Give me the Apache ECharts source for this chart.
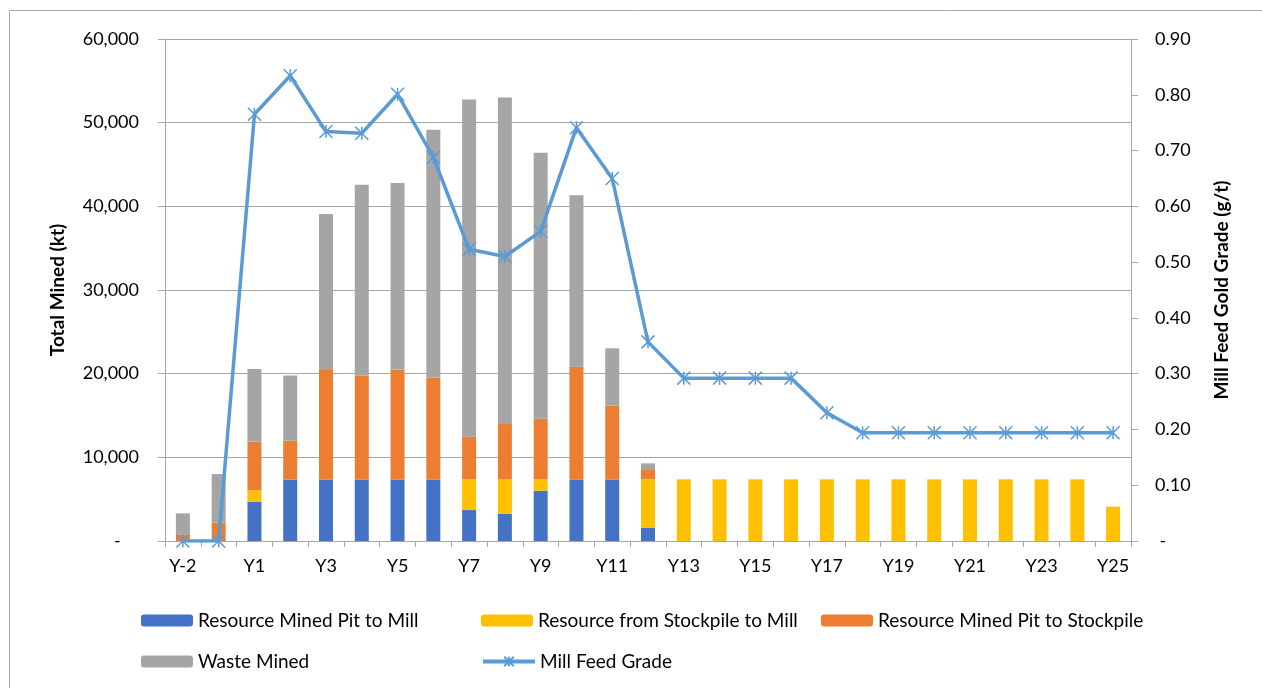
<!DOCTYPE html>
<html>
<head>
<meta charset="utf-8">
<script src="https://cdn.jsdelivr.net/npm/echarts@6/dist/echarts.min.js"></script>
<style>
html,body{margin:0;padding:0;background:#fff;}
#chart{width:1262px;height:688px;}
</style>
</head>
<body>
<div id="chart"></div>
<script>
const categories = ['Y-2','Y-1','Y1','Y2','Y3','Y4','Y5','Y6','Y7','Y8','Y9','Y10','Y11','Y12','Y13','Y14','Y15','Y16','Y17','Y18','Y19','Y20','Y21','Y22','Y23','Y24','Y25'];
const pitToMill   = [0,0,4700,7330,7330,7330,7330,7330,3700,3260,6000,7330,7330,1600,0,0,0,0,0,0,0,0,0,0,0,0,0];
const stockToMill = [0,0,1350,0,0,0,0,0,3670,4110,1370,0,0,5770,7370,7370,7370,7370,7370,7370,7370,7370,7370,7370,7370,7370,4100];
const pitToStock  = [800,2200,5800,4650,13100,12450,13180,12220,5100,6610,7250,13500,8840,1110,0,0,0,0,0,0,0,0,0,0,0,0,0];
const wasteMined  = [2500,5800,8700,7800,18650,22800,22270,29600,40300,39020,31780,20480,6860,800,0,0,0,0,0,0,0,0,0,0,0,0,0];
const millGrade   = [0,0,0.765,0.834,0.734,0.731,0.801,0.688,0.523,0.510,0.555,0.741,0.650,0.357,0.292,0.292,0.292,0.292,0.230,0.194,0.194,0.194,0.194,0.194,0.194,0.194,0.194];
const seriesNames = ['Resource Mined Pit to Mill','Resource from Stockpile to Mill','Resource Mined Pit to Stockpile','Waste Mined','Mill Feed Grade'];

const FONT = 'Lato, "Open Sans", sans-serif';
const GRIDC = '#A6A6A6';
const starPath = 'path://M0,0L10,10M10,0L0,10M5,0L5,10';

const chart = echarts.init(document.getElementById('chart'), null, {renderer:'canvas'});

function legendAt(left, top, name) {
  return {
    left: left, top: top, orient: 'horizontal',
    data: [name], itemWidth: 52, itemHeight: 12, itemGap: 6,
    textStyle: {fontFamily: FONT, fontSize: 19, color: '#000'},
    selectedMode: false
  };
}

const barCommon = {type:'bar', stack:'total', barWidth: 14, yAxisIndex:0};

const option = {
  animation: false,
  backgroundColor: '#fff',
  textStyle: {fontFamily: FONT},
  graphic: [{
    type: 'rect', shape: {x: 9.5, y: 10.5, width: 1300, height: 700},
    style: {fill: 'none', stroke: '#A6A6A6', lineWidth: 1}, silent: true, z: -10
  }],
  grid: {left: 165, right: 131, top: 39, bottom: 147, containLabel: false},
  legend: [
    legendAt(136, 606, seriesNames[0]),
    legendAt(476, 606, seriesNames[1]),
    legendAt(816, 606, seriesNames[2]),
    legendAt(136, 647, seriesNames[3]),
    Object.assign(legendAt(476, 647, seriesNames[4]), {lineStyle: {width: 4}})
  ],
  xAxis: {
    type: 'category', data: categories, boundaryGap: true,
    axisLine: {show: true, lineStyle: {color: GRIDC, width: 1}},
    axisTick: {show: true, interval: 0, length: 6, lineStyle: {color: GRIDC}},
    axisLabel: {interval: 1, margin: 16, fontFamily: FONT, fontSize: 18, color: '#000'},
    splitLine: {show: false}
  },
  yAxis: [{
    type: 'value', min: 0, max: 60000, interval: 10000, position: 'left',
    name: 'Total Mined (kt)', nameLocation: 'middle', nameGap: 98, nameRotate: 90,
    nameTextStyle: {fontFamily: FONT, fontSize: 19, fontWeight: 'bold', color: '#000'},
    axisLine: {show: true, lineStyle: {color: GRIDC}},
    axisTick: {show: true, length: 7, lineStyle: {color: GRIDC}},
    axisLabel: {margin: 26, fontFamily: FONT, fontSize: 18, color: '#000',
      formatter: v => v === 0 ? '-    ' : v.toLocaleString('en-US')},
    splitLine: {show: true, lineStyle: {color: GRIDC, width: 1}}
  }, {
    type: 'value', min: 0, max: 0.9, interval: 0.1, position: 'right',
    name: 'Mill Feed Gold Grade (g/t)', nameLocation: 'middle', nameGap: 81, nameRotate: 90,
    nameTextStyle: {fontFamily: FONT, fontSize: 19, fontWeight: 'bold', color: '#000'},
    axisLine: {show: true, lineStyle: {color: GRIDC}},
    axisTick: {show: true, length: 7, lineStyle: {color: GRIDC}},
    axisLabel: {margin: 24, fontFamily: FONT, fontSize: 18, color: '#000',
      formatter: v => v === 0 ? ' -' : v.toFixed(2)},
    splitLine: {show: false}
  }],
  series: [
    Object.assign({}, barCommon, {name: seriesNames[0], data: pitToMill, itemStyle: {color: '#4472C4'}}),
    Object.assign({}, barCommon, {name: seriesNames[1], data: stockToMill, itemStyle: {color: '#FFC000'}}),
    Object.assign({}, barCommon, {name: seriesNames[2], data: pitToStock, itemStyle: {color: '#ED7D31'}}),
    Object.assign({}, barCommon, {name: seriesNames[3], data: wasteMined, itemStyle: {color: '#A5A5A5'}}),
    {
      name: seriesNames[4], type: 'line', yAxisIndex: 1, data: millGrade, z: 10,
      lineStyle: {color: '#5B9BD5', width: 3.5},
      symbol: starPath, symbolSize: 13, showAllSymbol: true,
      itemStyle: {color: '#5B9BD5', borderColor: '#5B9BD5', borderWidth: 1.5}
    }
  ]
};
chart.setOption(option);
</script>
</body>
</html>
